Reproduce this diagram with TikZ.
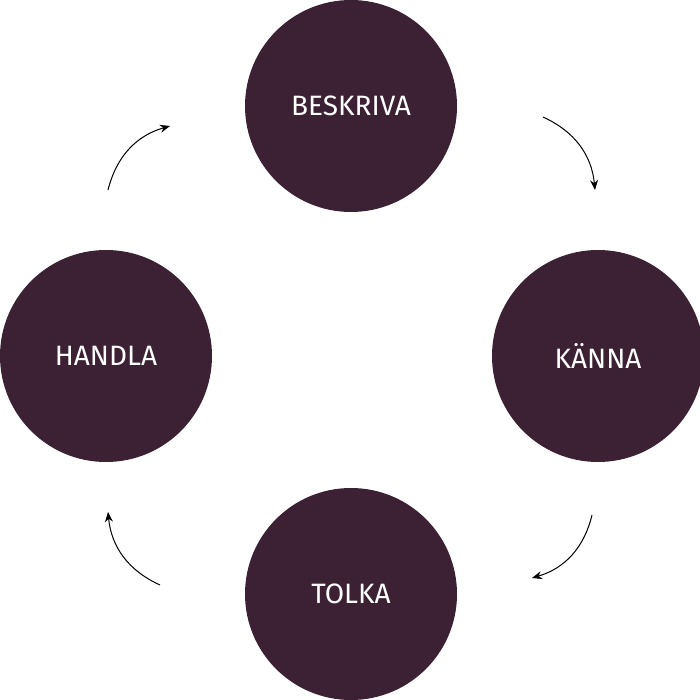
\documentclass[tikz,border=0pt]{standalone}
\usepackage{fontspec}
\setmainfont{Fira Sans}
\usetikzlibrary{arrows.meta}
\definecolor{plum}{HTML}{3C2034}
\tikzset{
  phase/.style={circle,fill=plum,minimum size=212pt,inner sep=0pt,
    text=white,font=\fontsize{28}{32}\selectfont},
  cycle/.style={-{Stealth[length=10pt,width=8pt]},line width=1pt,bend left=30}
}
\begin{document}
\begin{tikzpicture}[x=1pt,y=-1pt]
  \useasboundingbox (0,0) rectangle (700,700);
%%
  \node (beskriva) at (351,106) [phase] {BESKRIVA};
  \node (kanna) at (598,356) [phase] {KÄNNA};
  \node (tolka) at (351,594) [phase] {TOLKA};
  \node (handla) at (106,356) [phase] {HANDLA};

  \coordinate (a_0) at (543,117);
  \coordinate (a_1) at (595,190);
  \coordinate (b_0) at (592,515);
  \coordinate (b_1) at (532,578);
  \coordinate (c_0) at (160,585);
  \coordinate (c_1) at (108,512);
  \coordinate (d_0) at (108,190);
  \coordinate (d_1) at (170,126);

  \draw [cycle] (a_0) to (a_1);
  \draw [cycle] (b_0) to (b_1);
  \draw [cycle] (c_0) to (c_1);
  \draw [cycle] (d_0) to (d_1);
%
\end{tikzpicture}
\end{document}
